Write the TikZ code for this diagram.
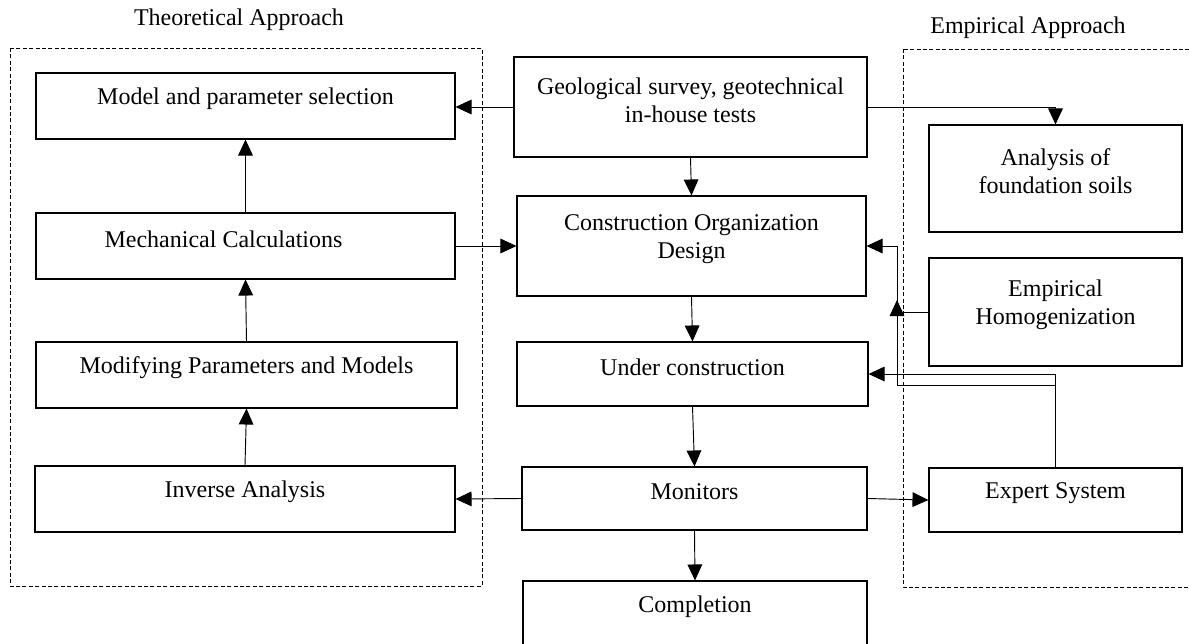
\documentclass[tikz,border=0pt]{standalone}
\usepackage{fontspec}
\setmainfont{Liberation Serif}
\usetikzlibrary{arrows.meta}
\begin{document}
\begin{tikzpicture}[
		x=0.75pt, y=-0.75pt,
		font=\fontsize{18pt}{21pt}\selectfont,
		box/.style={draw, line width=0.8pt, inner sep=0pt},
		txt/.style={align=center, yshift=5.25pt},
		arr/.style={-{Triangle[length=12pt,width=11pt]}, line width=0.7pt},
		zone/.style={draw, dash pattern=on 3pt off 1.8pt, line width=0.7pt}
	]
	\useasboundingbox (0,0) rectangle (1189,643);
	\draw[zone] (10,48) rectangle (482,586);
	\draw[zone] (903,49) rectangle (1193,587);
	\node (theo) at (239,20) {Theoretical Approach};
	\node (emp) at (1028,28) {Empirical Approach};

	\node[box, minimum width=314.25pt, minimum height=49.5pt, label={[txt]center:Model and parameter selection}] (model) at (245.5,106) {};
	\node[box, minimum width=314.25pt, minimum height=49.5pt, label={[txt, xshift=-16.5pt]center:Mechanical Calculations}] (mech) at (245.5,246) {};
	\node[box, minimum width=315.75pt, minimum height=49.5pt, label={[txt]center:Modifying Parameters and Models}] (modif) at (246.5,375) {};
	\node[box, minimum width=315pt, minimum height=49.5pt, label={[txt]center:Inverse Analysis}] (inverse) at (245,499) {};

	\node[box, minimum width=264.75pt, minimum height=75pt, label={[txt]center:Geological survey, geotechnical\\in-house tests}] (geo) at (690.5,107) {};
	\node[box, minimum width=261.75pt, minimum height=75pt, label={[txt]center:Construction Organization\\Design}] (cod) at (691.5,246) {};
	\node[box, minimum width=263.25pt, minimum height=48pt, label={[txt]center:Under construction}] (under) at (692.5,374) {};
	\node[box, minimum width=258.75pt, minimum height=47.25pt, label={[txt]center:Monitors}] (monitors) at (694.5,498.5) {};
	\node[box, minimum width=258pt, minimum height=49.5pt, label={[txt]center:Completion}] (completion) at (695,614) {};

	\node[box, minimum width=189.75pt, minimum height=80.25pt, label={[txt]center:Analysis of\\foundation soils}] (analysis) at (1055.5,178.5) {};
	\node[box, minimum width=189.75pt, minimum height=81pt, label={[txt]center:Empirical\\Homogenization}] (homog) at (1055.5,312) {};
	\node[box, minimum width=189.75pt, minimum height=48pt, label={[txt]center:Expert System}] (expert) at (1055.5,500) {};

	\coordinate (bus) at (897,385);
	\coordinate (tip) at (897,300);

	\draw[arr] (geo.west) -- (model.east |- geo.west);
	\draw[arr] (geo.east) -| (analysis.north);
	\draw[arr] (geo.south) -- (cod.north);
	\draw[arr] (mech.east) -- (cod.west);
	\draw[arr] (mech.north) -- (model.south);
	\draw[arr] (modif.north) -- (mech.south);
	\draw[arr] (inverse.north) -- (modif.south);
	\draw[arr] (cod.south) -- (under.north);
	\draw[arr] (under.south) -- (monitors.north);
	\draw[arr] (monitors.west) -- (inverse.east);
	\draw[arr] (monitors.east) -- (expert.west);
	\draw[arr] (monitors.south) -- (completion.north);
	\draw[arr] (homog.west) -| (tip);
	\draw[arr] (expert.north) |- (bus) |- (cod.east);
	\draw[arr] (expert.north) |- (under.east);
\end{tikzpicture}
\end{document}
